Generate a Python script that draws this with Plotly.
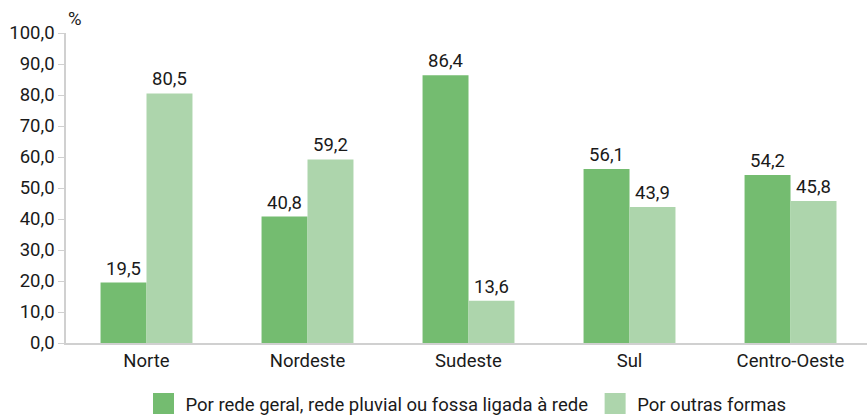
import plotly.graph_objects as go

categories = ["Norte", "Nordeste", "Sudeste", "Sul", "Centro-Oeste"]
rede_geral = [19.5, 40.8, 86.4, 56.1, 54.2]
outras_formas = [80.5, 59.2, 13.6, 43.9, 45.8]
series_names = ["Por rede geral, rede pluvial ou fossa ligada à rede", "Por outras formas"]
y_ticks = [0, 10, 20, 30, 40, 50, 60, 70, 80, 90, 100]

c_dark = "#74BC70"
c_light = "#ADD5AC"
font_family = "Roboto, sans-serif"
txt_color = "#1a1a1a"
fs = 18.5

fig = go.Figure()
for vals, color in [(rede_geral, c_dark), (outras_formas, c_light)]:
    fig.add_trace(go.Bar(
        x=categories, y=vals, marker=dict(color=color, line=dict(width=0)),
        texttemplate="%{y:.1f}", textposition="outside", cliponaxis=False,
        textfont=dict(size=fs, color=txt_color), showlegend=False,
    ))
for name, color in zip(series_names, [c_dark, c_light]):
    fig.add_trace(go.Scatter(
        x=[None], y=[None], mode="markers", name=name,
        marker=dict(symbol="square", size=16, color=color, line=dict(color=color, width=6)),
    ))

fig.update_layout(
    width=867, height=415,
    margin=dict(l=66, r=0, t=33, b=72, autoexpand=False),
    paper_bgcolor="white", plot_bgcolor="white",
    separators=",.",
    font=dict(family=font_family, size=fs, color=txt_color),
    barmode="group", bargap=0.429, bargroupgap=0,
    legend=dict(orientation="h", x=0.5, xanchor="center", y=-0.197, yanchor="middle",
                font=dict(size=fs), itemwidth=34, traceorder="normal"),
    annotations=[dict(text="%", xref="paper", yref="paper", x=0, y=1, xanchor="left",
                      yanchor="bottom", showarrow=False, font=dict(size=fs), xshift=0, yshift=1)],
)
fig.update_xaxes(showline=True, linecolor="#d0d0d0", linewidth=1.5, ticks="", showgrid=False,
                 tickfont=dict(size=fs), range=[-0.5, 4.475], automargin=False)
fig.update_yaxes(range=[0, 100], tickvals=y_ticks, tickformat=".1f", showgrid=False,
                 showline=True, linecolor="#d0d0d0", linewidth=1.5, ticks="outside",
                 ticklen=6, tickcolor="#d0d0d0", tickfont=dict(size=fs), zeroline=False,
                 automargin=False)

fig.write_html("out.html", config={"displayModeBar": False},
               post_script="document.body.style.margin='0';document.body.style.overflow='hidden';")
